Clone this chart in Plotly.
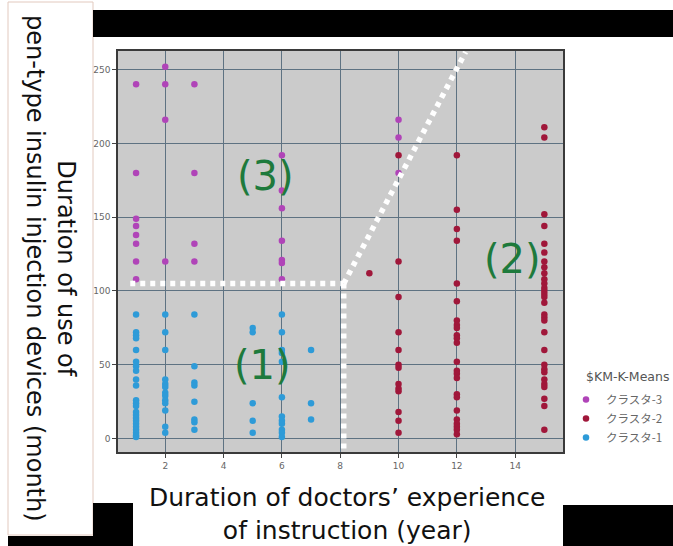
import plotly.graph_objects as go

# ---------------- data ----------------
c3_x = [1]*8 + [2]*4 + [3]*4 + [6]*7 + [10]*3
c3_y = [240, 180, 149, 144, 138, 132, 120, 108,
        252, 240, 216, 120,
        240, 180, 132, 120,
        192, 168, 156, 134, 121, 119, 108,
        216, 204, 180]

c2_x = [9] + [10]*13 + [12]*24 + [15]*30
c2_y = [112,
        192, 120, 96, 72, 60, 50, 48, 37, 34, 32, 18, 12, 4,
        192, 155, 142, 134, 105, 93, 80, 77, 75, 70, 68, 65, 52, 46, 44, 41, 30, 28, 19, 13, 10, 8, 6, 3,
        211, 204, 152, 144, 132, 126, 120, 116, 112, 108, 105, 102, 100, 98, 96, 92, 84, 82, 80, 72, 60,
        50, 47, 45, 40, 37, 35, 27, 22, 6]

c1_x = [1]*23 + [2]*13 + [3]*8 + [5]*5 + [6]*12 + [7]*3
c1_y = [84, 72, 70, 68, 60, 52, 49, 46, 40, 36, 26, 24, 22, 18, 16, 14, 12, 10, 8, 6, 4, 2, 1,
        84, 72, 60, 40, 37, 35, 31, 29, 26, 24, 19, 8, 4,
        84, 49, 38, 36, 25, 13, 11, 6,
        75, 72, 24, 12, 4,
        84, 72, 60, 58, 52, 28, 15, 12, 10, 6, 4, 1,
        60, 24, 13]

series_names = ["クラスタ-3", "クラスタ-2", "クラスタ-1"]
series_colors = ["#B044B8", "#A0173A", "#2E9BD8"]

x_ticks = [2, 4, 6, 8, 10, 12, 14]
y_ticks = [0, 50, 100, 150, 200, 250]

# boundary lines (cluster separators)
h_line_x = [0.8, 8.1]
h_line_y = [105, 105]
v_line_x = [8.12, 8.12]
v_line_y = [105, -7]
d_line_x = [8.12, 12.3]
d_line_y = [105, 262]

region_labels = ["(3)", "(1)", "(2)"]
region_x = [5.43, 5.33, 13.9]
region_y = [178, 50, 122]

# ---------------- layout geometry ----------------
W, H = 673, 546
L, R, T, B = 118, 110, 51, 94
PW, PH = W - L - R, H - T - B

def px(xp):
    return (xp - L) / PW

def py(yp):
    return (H - B - yp) / PH

fig = go.Figure()

for xs, ys, name, col in zip([c3_x, c2_x, c1_x], [c3_y, c2_y, c1_y], series_names, series_colors):
    fig.add_trace(go.Scatter(x=xs, y=ys, mode="markers", name=name,
                             marker=dict(color=col, size=6.5, line=dict(width=0)),
                             cliponaxis=False))

for lx, ly in [(h_line_x, h_line_y), (v_line_x, v_line_y), (d_line_x, d_line_y)]:
    fig.add_trace(go.Scatter(x=lx, y=ly, mode="lines", showlegend=False, hoverinfo="skip",
                             line=dict(color="white", width=5.5, dash="5px,5px")))

for t, x, y in zip(region_labels, region_x, region_y):
    fig.add_annotation(x=x, y=y, xref="x", yref="y", text=t, showarrow=False,
                       xanchor="center", yanchor="middle",
                       font=dict(family="DejaVu Sans", size=40, color="#1E7A3C"))

shapes = []
# white box around y title
shapes.append(dict(type="rect", xref="paper", yref="paper",
                   x0=px(8), x1=px(93), y0=py(535), y1=py(2),
                   line=dict(color="#E2C9BE", width=1), fillcolor="white", layer="below"))
# black bars
for (x0, y0, x1, y1) in [(93, 10, 673, 37), (563, 505, 673, 546),
                         (93, 503, 133, 546), (8, 536, 133, 546)]:
    shapes.append(dict(type="rect", xref="paper", yref="paper",
                       x0=px(x0), x1=px(x1), y0=py(y1), y1=py(y0),
                       line=dict(width=0), fillcolor="black", layer="above"))
fig.update_layout(shapes=shapes)

# axis titles
fig.add_annotation(xref="paper", yref="paper", x=px(347), y=py(514),
                   xanchor="center", yanchor="middle",
                   text="Duration of doctors’ experience<br>of instruction (year)",
                   showarrow=False, font=dict(family="DejaVu Sans", size=25, color="#111"))
fig.add_annotation(xref="paper", yref="paper", x=px(51), y=py(268), textangle=90,
                   xanchor="center", yanchor="middle",
                   text="Duration of use of<br>pen-type insulin injection devices (month)",
                   showarrow=False, font=dict(family="DejaVu Sans", size=24, color="#111"))
# legend title
fig.add_annotation(xref="paper", yref="paper", x=px(584), y=py(376),
                   xanchor="left", yanchor="middle", text="$KM-K-Means", showarrow=False,
                   font=dict(family="DejaVu Sans", size=12.5, color="#555"))

axis_common = dict(showgrid=True, gridcolor="#5E7282", gridwidth=1, zeroline=False,
                   showline=True, linecolor="#3a3a3a", linewidth=1.5, mirror=True,
                   ticks="outside", ticklen=4, tickcolor="#444",
                   tickfont=dict(family="DejaVu Sans", size=9, color="#666"))

fig.update_xaxes(range=[0.38, 15.64], tickvals=x_ticks, **axis_common)
fig.update_yaxes(range=[-9.1, 262.6], tickvals=y_ticks, **axis_common)

fig.update_layout(
    width=W, height=H,
    margin=dict(l=L, r=R, t=T, b=B, autoexpand=False),
    plot_bgcolor="#CBCBCB", paper_bgcolor="white",
    showlegend=True,
    legend=dict(xref="container", yref="container", x=566 / W, y=1 - 385 / H,
                xanchor="left", yanchor="top", bgcolor="rgba(0,0,0,0)",
                font=dict(family="Noto Sans CJK JP", size=11.5, color="#666"),
                itemsizing="trace", itemwidth=30),
)

fig.write_html("out.html", config={"displayModeBar": False},
               post_script="document.body.style.margin='0px';")
